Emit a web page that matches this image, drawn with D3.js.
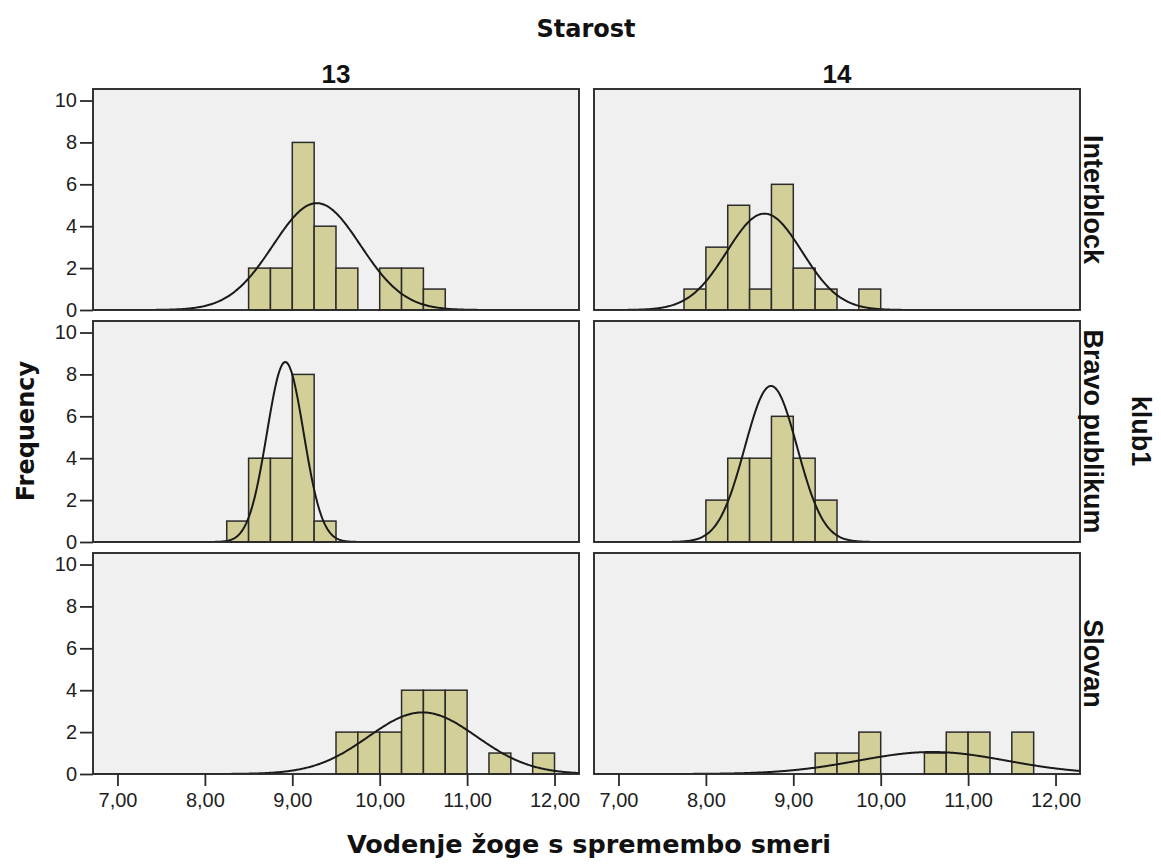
<!DOCTYPE html>
<html>
<head>
<meta charset="utf-8">
<script src="https://cdn.jsdelivr.net/npm/d3@7"></script>
<style>
  body { margin: 0; background: #fff; }
</style>
</head>
<body>
<div class="chart"></div>
<script>
const ages = ['13', '14'];
const clubs = ['Interblock', 'Bravo publikum', 'Slovan'];
const xTicks = [7, 8, 9, 10, 11, 12];
const yTicks = [0, 2, 4, 6, 8, 10];
const binWidth = 0.25;

// first bin edge per panel (rows = clubs, cols = ages)
const binStarts = [
  [8.5, 7.75],
  [8.25, 8.0],
  [9.5, 9.25],
];
const binCounts = [
  [[2, 2, 8, 4, 2, 0, 2, 2, 1], [1, 3, 5, 1, 6, 2, 1, 0, 1]],
  [[1, 4, 4, 8, 1], [2, 4, 4, 6, 4, 2]],
  [[2, 2, 2, 4, 4, 4, 0, 1, 0, 1], [1, 1, 2, 0, 0, 1, 2, 2, 0, 2]],
];

// fitted normal curves
const curveMeans = [[9.28, 8.67], [8.92, 8.745], [10.49, 10.59]];
const curveSds = [[0.5, 0.43], [0.21, 0.3], [0.62, 0.85]];
const curvePeaks = [[5.1, 4.6], [8.59, 7.45], [2.94, 1.05]];

const width = 1161;
const height = 864;
const colX = [93, 594];
const rowY = [89, 321, 553];
const panelW = 486;
const panelH = 221;

const svg = d3.select('.chart')
  .append('svg')
  .attr('width', width)
  .attr('height', height);

const x = d3.scaleLinear().domain([6.72, 12.28]).range([0, panelW]);
const y = d3.scaleLinear().domain([0, 10.55]).range([panelH, 0]);

const fmt = d => d.toFixed(2).replace('.', ',');

const curveLine = d3.line()
  .x(d => x(d[0]))
  .y(d => y(d[1]));

const xs = d3.range(x.domain()[0], x.domain()[1] + 0.005, 0.01);

clubs.forEach((club, r) => {
  ages.forEach((age, c) => {
    const g = svg.append('g')
      .attr('transform', `translate(${colX[c]},${rowY[r]})`);

    const clipId = `clip-${r}-${c}`;
    g.append('clipPath').attr('id', clipId)
      .append('rect').attr('width', panelW).attr('height', panelH);

    g.append('rect')
      .attr('width', panelW)
      .attr('height', panelH)
      .attr('fill', '#f0f0f0');

    const bins = binCounts[r][c].map((count, i) => ({
      x0: binStarts[r][c] + i * binWidth,
      count,
    })).filter(b => b.count > 0);

    g.selectAll('rect.bar')
      .data(bins)
      .enter().append('rect')
      .attr('class', 'bar')
      .attr('x', d => x(d.x0))
      .attr('width', d => x(d.x0 + binWidth) - x(d.x0))
      .attr('y', d => y(d.count))
      .attr('height', d => y(0) - y(d.count))
      .attr('fill', '#d3cf98')
      .attr('stroke', '#2b2b2b')
      .attr('stroke-width', 1.5);

    const mean = curveMeans[r][c];
    const sd = curveSds[r][c];
    const peak = curvePeaks[r][c];
    const pts = xs.map(v => [v, peak * Math.exp(-((v - mean) ** 2) / (2 * sd * sd))]);

    g.append('path')
      .datum(pts)
      .attr('clip-path', `url(#${clipId})`)
      .attr('d', curveLine)
      .attr('fill', 'none')
      .attr('stroke', '#1a1a1a')
      .attr('stroke-width', 2);

    g.append('rect')
      .attr('width', panelW)
      .attr('height', panelH)
      .attr('fill', 'none')
      .attr('stroke', '#2a2a2a')
      .attr('stroke-width', 1.9);

    if (c === 0) {
      const yAxis = d3.axisLeft(y)
        .tickValues(yTicks)
        .tickSize(13)
        .tickPadding(3);
      const yg = g.append('g').call(yAxis);
      yg.select('.domain').remove();
      yg.selectAll('line').attr('stroke', '#2a2a2a').attr('stroke-width', 1.8);
      yg.selectAll('text')
        .attr('fill', '#1e1e1e')
        .style('font-family', '"Liberation Sans", Arial, sans-serif')
        .style('font-size', '20px');
    }

    if (r === clubs.length - 1) {
      const xAxis = d3.axisBottom(x)
        .tickValues(xTicks)
        .tickFormat(fmt)
        .tickSize(12)
        .tickPadding(7);
      const xg = g.append('g')
        .attr('transform', `translate(0,${panelH})`)
        .call(xAxis);
      xg.select('.domain').remove();
      xg.selectAll('line').attr('stroke', '#2a2a2a').attr('stroke-width', 1.8);
      xg.selectAll('text')
        .attr('fill', '#1e1e1e')
        .style('font-family', '"Liberation Sans", Arial, sans-serif')
        .style('font-size', '20px');
    }

    if (r === 0) {
      svg.append('text')
        .attr('x', colX[c] + panelW / 2)
        .attr('y', 83)
        .attr('text-anchor', 'middle')
        .style('font-family', '"Liberation Sans", Arial, sans-serif')
        .style('font-weight', 'bold')
        .style('font-size', '26px')
        .attr('fill', '#111')
        .text(age);
    }

    if (c === ages.length - 1) {
      svg.append('text')
        .attr('transform', `translate(1084,${rowY[r] + panelH / 2}) rotate(90)`)
        .attr('text-anchor', 'middle')
        .style('font-family', '"Liberation Sans", Arial, sans-serif')
        .style('font-weight', 'bold')
        .style('font-size', '27px')
        .attr('fill', '#111')
        .text(club);
    }
  });
});

/* titles */

svg.append('text')
  .attr('x', 586)
  .attr('y', 37)
  .attr('text-anchor', 'middle')
  .style('font-family', '"DejaVu Sans", Verdana, sans-serif')
  .style('font-weight', 'bold')
  .style('font-size', '24px')
  .attr('fill', '#111')
  .text('Starost');

svg.append('text')
  .attr('x', 589)
  .attr('y', 853)
  .attr('text-anchor', 'middle')
  .style('font-family', '"DejaVu Sans", Verdana, sans-serif')
  .style('font-weight', 'bold')
  .style('font-size', '25.5px')
  .attr('fill', '#111')
  .text('Vodenje žoge s spremembo smeri');

svg.append('text')
  .attr('transform', 'translate(34,431) rotate(-90)')
  .attr('text-anchor', 'middle')
  .style('font-family', '"DejaVu Sans", Verdana, sans-serif')
  .style('font-weight', 'bold')
  .style('font-size', '24px')
  .attr('fill', '#111')
  .text('Frequency');

svg.append('text')
  .attr('transform', 'translate(1132,431) rotate(90)')
  .attr('text-anchor', 'middle')
  .style('font-family', '"Liberation Sans", Arial, sans-serif')
  .style('font-weight', 'bold')
  .style('font-size', '27px')
  .attr('fill', '#111')
  .text('klub1');
</script>
</body>
</html>
